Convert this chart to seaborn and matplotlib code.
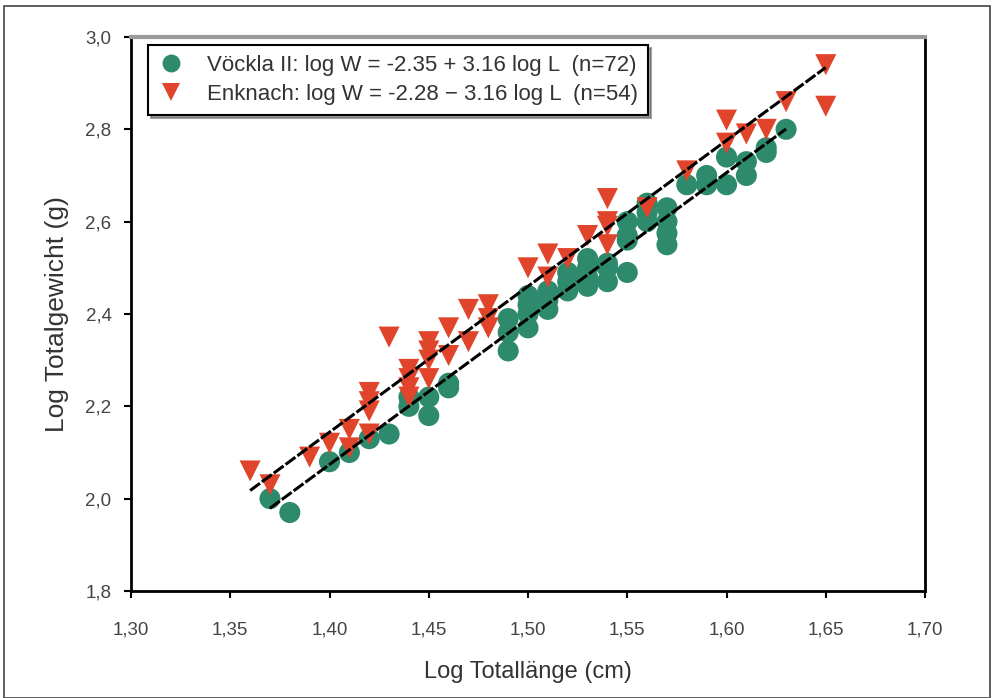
import matplotlib
matplotlib.use("Agg")
import matplotlib.pyplot as plt
import seaborn as sns
import numpy as np
import pandas as pd
from matplotlib.patches import Rectangle

# Vöckla II (green circles)
voeckla_x = [1.37, 1.38, 1.40, 1.41, 1.42, 1.43, 1.44, 1.44, 1.45, 1.45,
             1.46, 1.46, 1.49, 1.49, 1.49, 1.50, 1.50, 1.50, 1.50, 1.51,
             1.51, 1.51, 1.52, 1.52, 1.52, 1.53, 1.53, 1.53, 1.53, 1.54,
             1.54, 1.54, 1.55, 1.55, 1.55, 1.55, 1.56, 1.56, 1.56, 1.57,
             1.57, 1.57, 1.57, 1.58, 1.59, 1.59, 1.60, 1.60, 1.61, 1.61,
             1.62, 1.62, 1.63]
voeckla_y = [2.00, 1.97, 2.08, 2.10, 2.13, 2.14, 2.20, 2.22, 2.18, 2.22,
             2.24, 2.25, 2.32, 2.36, 2.39, 2.37, 2.40, 2.42, 2.44, 2.41,
             2.43, 2.45, 2.45, 2.47, 2.49, 2.46, 2.48, 2.50, 2.52, 2.47,
             2.50, 2.51, 2.49, 2.56, 2.57, 2.60, 2.60, 2.62, 2.64, 2.55,
             2.575, 2.60, 2.63, 2.68, 2.68, 2.70, 2.68, 2.74, 2.70, 2.73,
             2.75, 2.76, 2.80]

# Enknach (red triangles)
enknach_x = [1.36, 1.37, 1.39, 1.40, 1.41, 1.41, 1.42, 1.42, 1.42, 1.42,
             1.43, 1.44, 1.44, 1.44, 1.44, 1.45, 1.45, 1.45, 1.45, 1.46,
             1.46, 1.47, 1.47, 1.48, 1.48, 1.48, 1.50, 1.51, 1.51, 1.52,
             1.53, 1.54, 1.54, 1.54, 1.54, 1.56, 1.58, 1.60, 1.60, 1.61,
             1.62, 1.63, 1.65, 1.65]
enknach_y = [2.06, 2.03, 2.09, 2.12, 2.11, 2.15, 2.14, 2.19, 2.21, 2.23,
             2.35, 2.22, 2.24, 2.26, 2.28, 2.26, 2.30, 2.32, 2.34, 2.31,
             2.37, 2.34, 2.41, 2.37, 2.39, 2.42, 2.50, 2.48, 2.53, 2.52,
             2.57, 2.55, 2.59, 2.60, 2.65, 2.63, 2.71, 2.77, 2.82, 2.79,
             2.80, 2.86, 2.94, 2.85]

label_v = "Vöckla II: log W = -2.35 + 3.16 log L  (n=72)"
label_e = "Enknach: log W = -2.28 − 3.16 log L  (n=54)"

# regression lines: intercept, slope, x range
intercepts = [-2.35, -2.28]
slopes = [3.16, 3.16]
line_ranges = [(1.37, 1.63), (1.36, 1.65)]

xticks = [1.30, 1.35, 1.40, 1.45, 1.50, 1.55, 1.60, 1.65, 1.70]
yticks = [1.8, 2.0, 2.2, 2.4, 2.6, 2.8, 3.0]

green = "#2e8a6c"
red = "#e0452b"

df = pd.DataFrame({
    "x": voeckla_x + enknach_x,
    "y": voeckla_y + enknach_y,
    "site": [label_v] * len(voeckla_x) + [label_e] * len(enknach_x),
})

sns.set_style("white")
plt.rcParams["font.family"] = ["Liberation Sans", "DejaVu Sans"]

fig = plt.figure(figsize=(9.94, 6.98), dpi=100)
ax = fig.add_axes([0.1318, 0.1533, 0.7988, 0.7937])

sns.scatterplot(data=df, x="x", y="y", hue="site", style="site",
                palette={label_v: green, label_e: red},
                markers={label_v: "o", label_e: "v"},
                s=230, linewidth=0, ax=ax, zorder=3)

for b0, b1, (x0, x1) in zip(intercepts, slopes, line_ranges):
    xs = np.array([x0, x1])
    ax.plot(xs, b0 + b1 * xs, color="black", lw=2.2,
            linestyle=(0, (4, 0.8)), zorder=4)

ax.set_xlim(1.30, 1.70)
ax.set_ylim(1.8, 3.0)
ax.set_xticks(xticks)
ax.set_yticks(yticks)
ax.set_xticklabels([f"{t:.2f}".replace(".", ",") for t in xticks],
                   fontsize=13.5, color="#444444")
ax.set_yticklabels([f"{t:.1f}".replace(".", ",") for t in yticks],
                   fontsize=13.5, color="#444444")
ax.tick_params(axis="both", direction="out", length=5, width=1.5,
               color="black", bottom=True, left=True)
ax.tick_params(axis="x", pad=17)
ax.tick_params(axis="y", pad=9)

ax.set_xlabel("Log Totallänge (cm)", fontsize=17, color="#333333", labelpad=16)
ax.set_ylabel("Log Totalgewicht (g)", fontsize=19, color="#333333", labelpad=12)

for side in ["left", "bottom", "right"]:
    ax.spines[side].set_visible(True)
    ax.spines[side].set_color("black")
    ax.spines[side].set_linewidth(2)
ax.spines["top"].set_color("#9a9a9a")
ax.spines["top"].set_linewidth(3)

leg = ax.legend(loc="upper left", bbox_to_anchor=(0.0214, 0.9856),
                fontsize=16, frameon=True, fancybox=False, shadow=True,
                borderpad=0.45, handletextpad=1.0, labelspacing=0.35,
                markerscale=0.85, borderaxespad=0, handlelength=1.2)
leg.get_frame().set_edgecolor("black")
leg.get_frame().set_linewidth(1.5)
for t in leg.get_texts():
    t.set_color("#333333")

fig.patches.append(Rectangle((0.004, 0.0), 0.992, 0.991, transform=fig.transFigure,
                             fill=False, edgecolor="#444444", linewidth=1.2))

fig.savefig("out.png", dpi=100)
